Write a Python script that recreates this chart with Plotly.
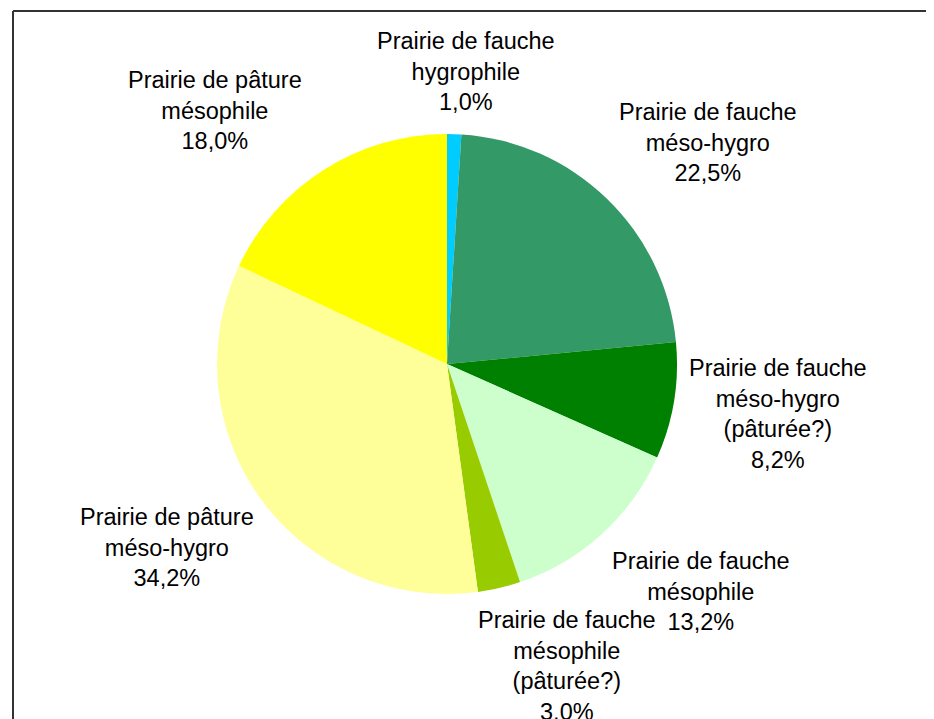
import plotly.graph_objects as go

# ---- data ----
categories = [
    "Prairie de fauche<br>hygrophile",
    "Prairie de fauche<br>méso-hygro",
    "Prairie de fauche<br>méso-hygro<br>(pâturée?)",
    "Prairie de fauche<br>mésophile",
    "Prairie de fauche<br>mésophile<br>(pâturée?)",
    "Prairie de pâture<br>méso-hygro",
    "Prairie de pâture<br>mésophile",
]
values = [1.0, 22.5, 8.2, 13.2, 3.0, 34.2, 18.0]
colors = ["#00CCFF", "#339966", "#008000", "#CCFFCC", "#99CC00", "#FFFF99", "#FFFF00"]

# ---- layout (screen pixels; page has an 8px body offset) ----
W, H = 934, 719
OFF = 8
cx, cy, r = 447, 364, 230
label_pos = [(466, 72), (708, 142), (778, 414), (701, 591), (567, 666), (167, 547), (215, 111)]

def px(x):
    return (x - OFF) / W

def py(y):
    return 1 - (y - OFF) / H

fig = go.Figure()
fig.add_trace(go.Pie(
    labels=categories,
    values=values,
    marker=dict(colors=colors, line=dict(width=0)),
    sort=False,
    direction="clockwise",
    rotation=0,
    textinfo="none",
    hoverinfo="label+percent",
    domain=dict(x=[px(cx - r), px(cx + r)], y=[py(cy + r), py(cy - r)]),
    showlegend=False,
))

for cat, val, (lx, ly) in zip(categories, values, label_pos):
    txt = cat + "<br>" + f"{val:.1f}".replace(".", ",") + "%"
    fig.add_annotation(
        x=px(lx), y=py(ly), xref="paper", yref="paper",
        text=txt, showarrow=False, align="center",
        xanchor="center", yanchor="middle",
        font=dict(family="Liberation Sans, Arial, sans-serif", size=23.5, color="#000000"),
    )

# frame (top and left edges visible)
fig.add_shape(type="line", xref="paper", yref="paper",
              x0=px(13), y0=py(11), x1=px(W + 40), y1=py(11),
              line=dict(color="#333333", width=2))
fig.add_shape(type="line", xref="paper", yref="paper",
              x0=px(13), y0=py(11), x1=px(13), y1=py(H + 40),
              line=dict(color="#333333", width=2))

fig.update_layout(
    width=W, height=H,
    margin=dict(l=0, r=0, t=0, b=0),
    paper_bgcolor="white",
    plot_bgcolor="white",
)

fig.write_html("out.html")
